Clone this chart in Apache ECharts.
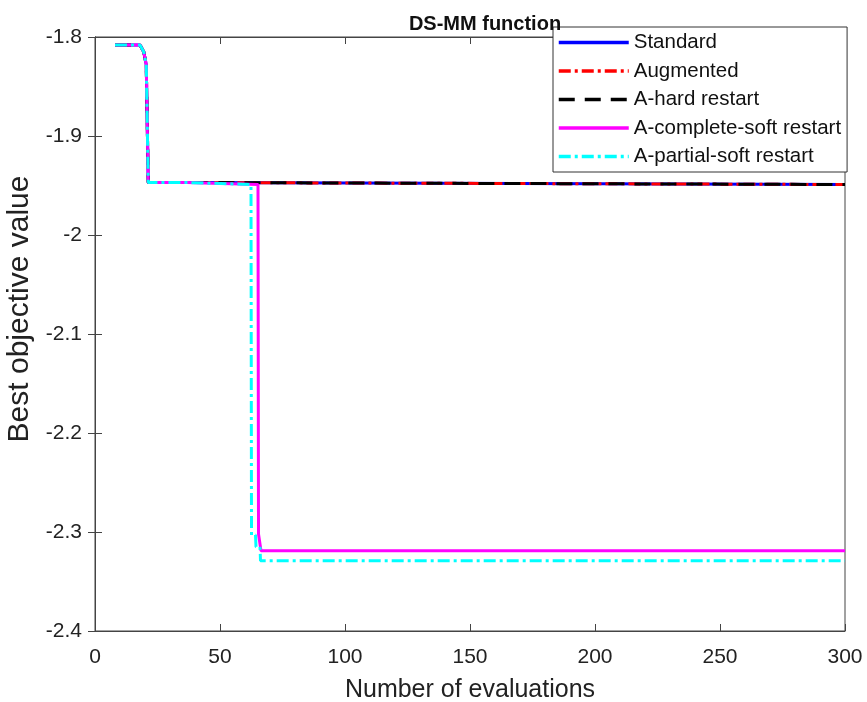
<!DOCTYPE html>
<html>
<head>
<meta charset="utf-8">
<script src="https://cdn.jsdelivr.net/npm/echarts@6/dist/echarts.min.js"></script>
<style>html,body{margin:0;padding:0;background:#fff;}#c{width:867px;height:702px;}</style>
</head>
<body>
<div id="c"></div>
<script>
var xTicks = [0, 50, 100, 150, 200, 250, 300];
var yTicks = [-2.4, -2.3, -2.2, -2.1, -2.0, -1.9, -1.8];

var standardX = [8, 18, 19.5, 20.5, 21.3, 37, 37.5, 300];
var standardY = [-1.808, -1.808, -1.815, -1.828, -1.947, -1.947, -1.949, -1.949];
var augmentedX = standardX;
var augmentedY = standardY;
var hardX = standardX;
var hardY = standardY;
var completeX = [8, 18, 19.5, 20.5, 21.3, 37, 37.5, 65.2, 65.4, 66.2, 66.4, 300];
var completeY = [-1.808, -1.808, -1.815, -1.828, -1.947, -1.947, -1.949, -1.949, -2.302, -2.302, -2.319, -2.319];
var partialX = [8, 18, 19.5, 20.5, 21.3, 37, 37.5, 62.4, 62.6, 64.2, 64.4, 66.0, 66.2, 300];
var partialY = [-1.808, -1.808, -1.815, -1.828, -1.947, -1.947, -1.949, -1.949, -2.303, -2.303, -2.315, -2.315, -2.329, -2.329];

function pairs(xs, ys) { return xs.map(function (x, i) { return [x, ys[i]]; }); }

var chart = echarts.init(document.getElementById('c'));
var font = 'Liberation Sans, Arial, sans-serif';
var axisCol = '#444';
function mk(name, xs, ys, color, type, w) {
  return {
    name: name, type: 'line', data: pairs(xs, ys), symbol: 'none',
    xAxisIndex: 0, yAxisIndex: 0, animation: false,
    lineStyle: { color: color, width: w, type: type },
    itemStyle: { color: color }
  };
}
chart.setOption({
  animation: false,
  backgroundColor: '#fff',
  title: {
    text: 'DS-MM function', left: 480, textAlign: 'center', top: 9,
    textStyle: { fontFamily: font, fontSize: 20, fontWeight: 'bold', color: '#111' }
  },
  legend: {
    orient: 'vertical', left: 553, top: 27,
    backgroundColor: '#fff', borderColor: '#333', borderWidth: 1,
    padding: [5, 6, 5, 4], itemWidth: 70, itemHeight: 20, itemGap: 7.5,
    itemStyle: { opacity: 0 },
    lineStyle: { width: 3.5 },
    textStyle: { fontFamily: font, fontSize: 20.5, color: '#111' },
    data: ['Standard', 'Augmented', 'A-hard restart', 'A-complete-soft restart', 'A-partial-soft restart']
  },
  grid: { left: 95, right: 22, top: 37, bottom: 71, outerBoundsMode: 'none', containLabel: false,
    show: true, borderColor: axisCol, borderWidth: 1, backgroundColor: 'transparent' },
  xAxis: [{
    type: 'value', min: 0, max: 300, interval: 50,
    name: 'Number of evaluations', nameLocation: 'middle', nameGap: 47,
    nameTextStyle: { fontFamily: font, fontSize: 25, color: '#222' },
    axisLine: { lineStyle: { color: axisCol } },
    axisTick: { inside: true, length: 7, lineStyle: { color: axisCol } },
    axisLabel: { fontFamily: font, fontSize: 21, color: '#222', margin: 16,
      formatter: function (v) { return xTicks.indexOf(v) >= 0 ? String(v) : ''; } },
    splitLine: { show: false }
  }, {
    type: 'value', min: 0, max: 300, interval: 50, position: 'top',
    axisLine: { lineStyle: { color: axisCol } },
    axisTick: { inside: true, length: 7, lineStyle: { color: axisCol } },
    axisLabel: { show: false }, splitLine: { show: false }
  }],
  yAxis: [{
    type: 'value', min: -2.4, max: -1.8, interval: 0.1,
    name: 'Best objective value', nameLocation: 'middle', nameGap: 56,
    nameTextStyle: { fontFamily: font, fontSize: 30, color: '#222', padding: [0, 0, 0, 50] },
    axisLine: { show: true, lineStyle: { color: axisCol } },
    axisTick: { show: true, inside: true, length: 7, lineStyle: { color: axisCol } },
    axisLabel: { fontFamily: font, fontSize: 21, color: '#222', margin: 13,
      formatter: function (v) {
        var r = Math.round(v * 10) / 10;
        return r === -2 ? '-2' : r.toFixed(1);
      } },
    splitLine: { show: false }
  }, {
    type: 'value', min: -2.4, max: -1.8, interval: 0.1, position: 'right',
    axisLine: { show: true, lineStyle: { color: axisCol } },
    axisTick: { show: true, inside: true, length: 7, lineStyle: { color: axisCol } },
    axisLabel: { show: false }, splitLine: { show: false }
  }],
  series: [
    mk('Standard', standardX, standardY, '#0000ff', 'solid', 3),
    mk('Augmented', augmentedX, augmentedY, '#ff0000', [12, 4, 3, 4], 3),
    mk('A-hard restart', hardX, hardY, '#000000', [16, 10], 3),
    mk('A-complete-soft restart', completeX, completeY, '#ff00ff', 'solid', 3),
    mk('A-partial-soft restart', partialX, partialY, '#00ffff', [12, 4, 3, 4], 3)
  ]
});
</script>
</body>
</html>
